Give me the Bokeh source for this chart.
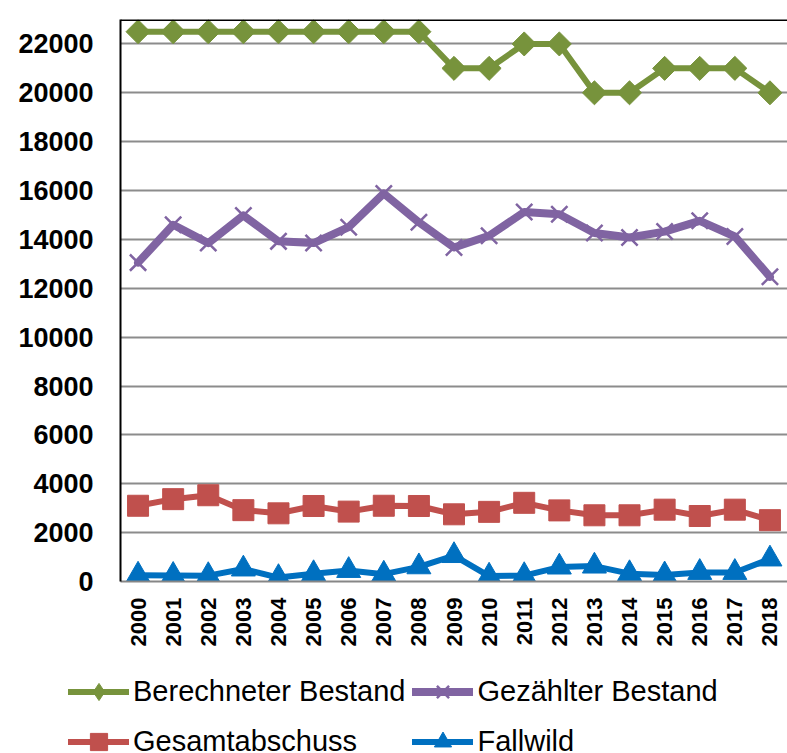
import numpy as np
from bokeh.plotting import figure
from bokeh.layouts import column
from bokeh.models import (FactorRange, Range1d, FixedTicker, Legend, LegendItem, Span)
from bokeh.embed import file_html
from bokeh.resources import INLINE

years = [str(y) for y in range(2000, 2019)]
berechneter = [22500, 22500, 22500, 22500, 22500, 22500, 22500, 22500, 22500, 21000,
               21000, 22000, 22000, 20000, 20000, 21000, 21000, 21000, 20000]
gezaehlter = [13050, 14600, 13850, 14980, 13920, 13850, 14500, 15880, 14700, 13670,
              14150, 15120, 15030, 14260, 14080, 14320, 14760, 14120, 12470]
gesamtabschuss = [3100, 3370, 3530, 2920, 2790, 3090, 2860, 3100, 3090, 2750,
                  2850, 3220, 2910, 2710, 2710, 2940, 2680, 2940, 2510]
fallwild = [260, 250, 240, 510, 160, 320, 450, 300, 600, 1060,
            220, 240, 590, 630, 320, 270, 370, 370, 920]
series_names = ["Berechneter Bestand", "Gezählter Bestand", "Gesamtabschuss", "Fallwild"]
y_ticks = list(range(0, 22001, 2000))
y_max = 23000

FONT = "Liberation Sans"

p = figure(width=787, height=660, output_backend="svg", toolbar_location=None,
           x_range=FactorRange(*years, range_padding=0), y_range=Range1d(0, y_max),
           min_border_left=120, min_border_right=0, min_border_top=19, min_border_bottom=79)
p.frame_align = False
p.outline_line_color = None
p.background_fill_color = "white"
p.border_fill_color = "white"

# grid
p.xgrid.grid_line_color = None
p.ygrid.ticker = FixedTicker(ticks=y_ticks)
p.ygrid.grid_line_color = "#8c8c8c"
p.ygrid.grid_line_width = 2

# y axis
p.yaxis.ticker = FixedTicker(ticks=y_ticks)
p.yaxis.axis_line_color = "black"
p.yaxis.axis_line_width = 2
p.yaxis.major_tick_line_color = None
p.yaxis.minor_tick_line_color = None
p.yaxis.major_tick_out = 0
p.yaxis.major_tick_in = 0
p.yaxis.major_label_standoff = 27
p.yaxis.major_label_text_font = FONT
p.yaxis.major_label_text_font_style = "bold"
p.yaxis.major_label_text_font_size = "27px"
p.yaxis.major_label_text_color = "black"

# x axis
p.xaxis.axis_line_color = "#868686"
p.xaxis.axis_line_width = 2
p.xaxis.major_tick_line_color = None
p.xaxis.major_tick_out = 0
p.xaxis.major_tick_in = 0
p.xaxis.major_label_standoff = 16
p.xaxis.major_label_orientation = np.pi / 2
p.xaxis.major_label_text_font = FONT
p.xaxis.major_label_text_font_style = "bold"
p.xaxis.major_label_text_font_size = "22px"
p.xaxis.major_label_text_color = "black"

p.add_layout(Span(location=y_max, dimension="width", line_color="black", line_width=3))

colors = ["#77933C", "#8064A2", "#C0504D", "#0070C0"]
widths = [6, 8, 6, 6]
data = [berechneter, gezaehlter, gesamtabschuss, fallwild]


def draw(fig, i, xs, vals, for_legend=False):
    col, lw = colors[i], widths[i]
    ln = fig.line(xs, vals, line_color=col, line_width=lw, line_join="round", line_cap="round")
    if i == 0:
        if for_legend:
            mk = fig.scatter(xs, vals, marker="diamond", size=22, fill_color=col, line_color=col)
        else:
            mk = fig.scatter(xs, vals, marker="square", angle=np.pi / 4, size=17,
                             fill_color=col, line_color=col)
    elif i == 1:
        mk = fig.scatter(xs, vals, marker="x", size=23, line_color=col, line_width=2.5)
    elif i == 2:
        mk = fig.scatter(xs, vals, marker="square", size=21, fill_color=col, line_color=col)
    else:
        mk = fig.scatter(xs, vals, marker="triangle", size=24, fill_color=col, line_color=col)
    return [ln, mk]


for i, vals in enumerate(data):
    draw(p, i, years, vals)

# legend strip below the chart (its series lie outside its visible range)
p2 = figure(width=787, height=93, output_backend="svg", toolbar_location=None,
            x_range=FactorRange(*years, range_padding=0), y_range=Range1d(-2 * y_max, -y_max),
            x_axis_location=None, y_axis_location=None,
            min_border_left=0, min_border_right=0, min_border_top=0, min_border_bottom=0)
p2.frame_align = False
p2.outline_line_color = None
p2.grid.grid_line_color = None
p2.border_fill_color = "white"

legend_renderers = [draw(p2, i, years, vals, for_legend=True) for i, vals in enumerate(data)]
order = [0, 2, 1, 3]  # column-major fill -> rows: (0, 1), (2, 3)
items = [LegendItem(label=series_names[i], renderers=legend_renderers[i]) for i in order]

legend = Legend(items=items, location=(68, -10), ncols=2,
                label_text_font=FONT, label_text_font_size="29px", label_text_color="black",
                glyph_width=61, glyph_height=43, label_height=43, label_standoff=4,
                spacing=7, padding=0, margin=0,
                border_line_color=None, background_fill_alpha=0)
p2.add_layout(legend, "center")

open("out.html", "w").write(file_html(column(p, p2, spacing=0), INLINE))
